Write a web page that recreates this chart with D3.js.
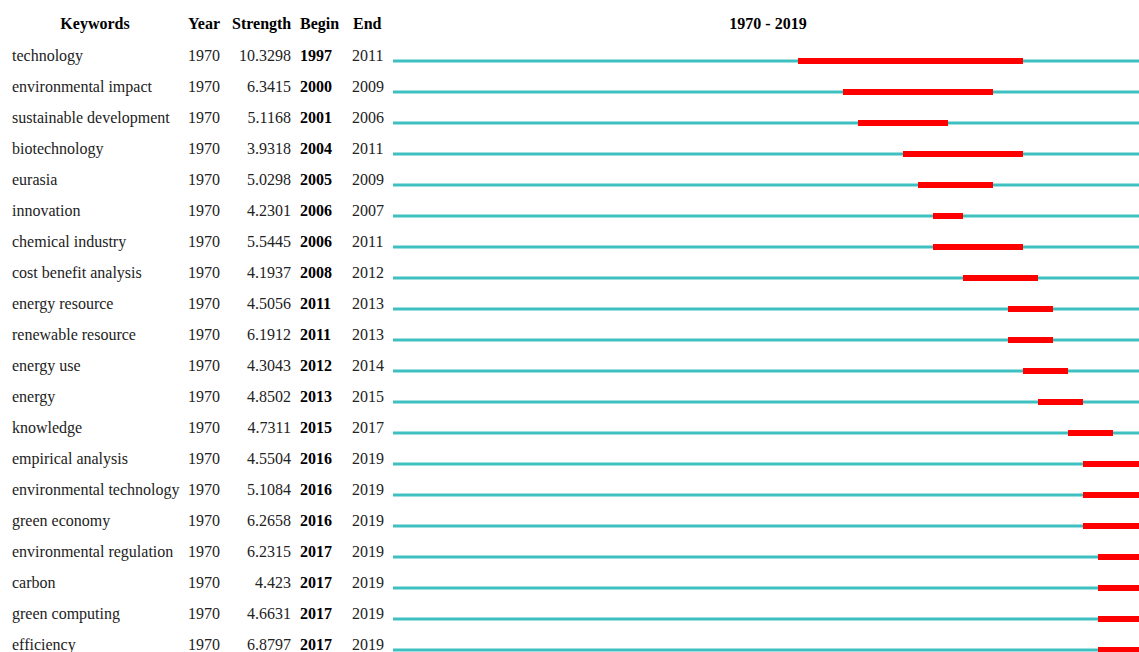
<!DOCTYPE html>
<html>
<head>
<meta charset="utf-8">
<script src="https://cdn.jsdelivr.net/npm/d3@7"></script>
<style>
  body { margin: 0; background: #fff; }
  svg { display: block; font-family: "Liberation Serif", "Times New Roman", serif; }
</style>
</head>
<body>
<div id="my_dataviz"><svg></svg></div>
<script>
// burst data
var keywords = ["technology", "environmental impact", "sustainable development", "biotechnology",
    "eurasia", "innovation", "chemical industry", "cost benefit analysis", "energy resource",
    "renewable resource", "energy use", "energy", "knowledge", "empirical analysis",
    "environmental technology", "green economy", "environmental regulation", "carbon",
    "green computing", "efficiency"];
var years = [1970, 1970, 1970, 1970, 1970, 1970, 1970, 1970, 1970, 1970,
    1970, 1970, 1970, 1970, 1970, 1970, 1970, 1970, 1970, 1970];
var strengths = ["10.3298", "6.3415", "5.1168", "3.9318", "5.0298", "4.2301", "5.5445", "4.1937",
    "4.5056", "6.1912", "4.3043", "4.8502", "4.7311", "4.5504", "5.1084", "6.2658", "6.2315",
    "4.423", "4.6631", "6.8797"];
var begins = [1997, 2000, 2001, 2004, 2005, 2006, 2006, 2008, 2011, 2011,
    2012, 2013, 2015, 2016, 2016, 2016, 2017, 2017, 2017, 2017];
var ends = [2011, 2009, 2006, 2011, 2009, 2007, 2011, 2012, 2013, 2013,
    2014, 2015, 2017, 2019, 2019, 2019, 2019, 2019, 2019, 2019];
var firstYear = 1970, lastYear = 2019;

var width = 1139, height = 652;
var svg = d3.select("#my_dataviz").select("svg")
    .attr("width", width)
    .attr("height", height);

// one band per year, 15px each
var xYear = d3.scaleLinear()
    .domain([firstYear, lastYear + 1])
    .range([393, 1143]);

var yRow = d3.scaleBand()
    .domain(d3.range(keywords.length))
    .range([38.5, 38.5 + 31 * keywords.length]);

var headerY = 28.5;
var header = svg.append("g")
    .attr("font-weight", "bold")
    .attr("font-size", 16)
    .attr("fill", "#000");
header.append("text").attr("x", 95).attr("y", headerY).attr("text-anchor", "middle").text("Keywords");
header.append("text").attr("x", 188).attr("y", headerY).text("Year");
header.append("text").attr("x", 232).attr("y", headerY).text("Strength");
header.append("text").attr("x", 300).attr("y", headerY).text("Begin");
header.append("text").attr("x", 353).attr("y", headerY).text("End");
header.append("text")
    .attr("x", (xYear(firstYear) + xYear(lastYear + 1)) / 2)
    .attr("y", headerY)
    .attr("text-anchor", "middle")
    .text(firstYear + " - " + lastYear);

var rows = svg.selectAll(".row")
    .data(keywords)
    .enter()
    .append("g")
    .attr("class", "row")
    .attr("font-size", 16)
    .attr("fill", "#222")
    .attr("transform", function (d, i) {
        return "translate(0," + yRow(i) + ")";
    });

var base = 22;
rows.append("text").attr("x", 12).attr("y", base).text(function (d) { return d; });
rows.append("text").attr("x", 188).attr("y", base).text(function (d, i) { return years[i]; });
rows.append("text").attr("x", 291).attr("y", base).attr("text-anchor", "end")
    .text(function (d, i) { return strengths[i]; });
rows.append("text").attr("x", 300).attr("y", base).attr("font-weight", "bold").attr("fill", "#000")
    .text(function (d, i) { return begins[i]; });
rows.append("text").attr("x", 352).attr("y", base).text(function (d, i) { return ends[i]; });

// full timeline
rows.append("rect")
    .attr("x", xYear(firstYear))
    .attr("y", 21)
    .attr("width", xYear(lastYear + 1) - xYear(firstYear))
    .attr("height", 3)
    .attr("fill", "#3fc0c0");

// burst period
rows.append("rect")
    .attr("x", function (d, i) { return xYear(begins[i]); })
    .attr("y", 19.5)
    .attr("width", function (d, i) { return xYear(ends[i] + 1) - xYear(begins[i]); })
    .attr("height", 6)
    .attr("fill", "#ff0000");
</script>
</body>
</html>
